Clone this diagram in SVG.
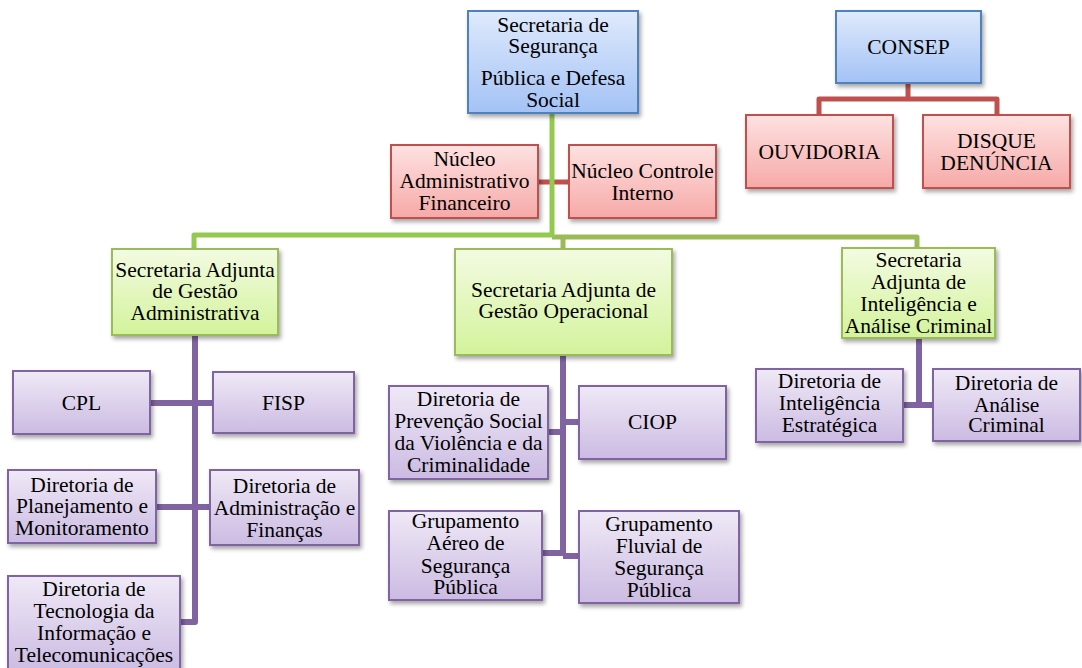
<svg xmlns="http://www.w3.org/2000/svg" width="1082" height="668" viewBox="0 0 1082 668">
<style>
text{font-family:"Liberation Serif","Times New Roman",serif;font-size:21.5px;fill:#000;text-anchor:middle}
.b{fill:url(#gb);stroke:#4f81bd;stroke-width:2;filter:url(#sh)}
.r{fill:url(#gr);stroke:#c0504d;stroke-width:2;filter:url(#sh)}
.g{fill:url(#gg);stroke:#9bbb59;stroke-width:2;filter:url(#sh)}
.p{fill:url(#gp);stroke:#8064a2;stroke-width:2;filter:url(#sh)}
.cg{fill:none;stroke:#92c94e;stroke-width:5;stroke-linejoin:round}
.co{fill:none;stroke:#9bbb59;stroke-width:5;stroke-linejoin:round}
.cr{fill:none;stroke:#c0504d;stroke-width:5;stroke-linejoin:round}
.cp{fill:none;stroke:#8064a2;stroke-width:6;stroke-linejoin:round}
</style>
<defs>
<linearGradient id="gb" x1="0" y1="0" x2="0" y2="1"><stop offset="0" stop-color="#dfeafc"/><stop offset="1" stop-color="#a3c2f5"/></linearGradient>
<linearGradient id="gr" x1="0" y1="0" x2="0" y2="1"><stop offset="0" stop-color="#fde2e1"/><stop offset="1" stop-color="#f6a9a7"/></linearGradient>
<linearGradient id="gg" x1="0" y1="0" x2="0" y2="1"><stop offset="0" stop-color="#f3fbe2"/><stop offset="1" stop-color="#d3f39b"/></linearGradient>
<linearGradient id="gp" x1="0" y1="0" x2="0" y2="1"><stop offset="0" stop-color="#efe9f6"/><stop offset="1" stop-color="#cbbbe2"/></linearGradient>
<filter id="sh" x="-10%" y="-10%" width="130%" height="130%"><feDropShadow dx="2" dy="3" stdDeviation="2" flood-color="#000" flood-opacity="0.35"/></filter>
</defs>
<rect width="1082" height="668" fill="#fff"/>
<g id="connectors">
<path class="cr" d="M908,84 V99 H819 V115 M908,99 H997 V115"/>
<path class="cr" d="M538,182 H569"/>
<path class="co" d="M552,237 H917 V248 M563,237 V249"/>
<path class="cg" d="M552,114 V235 H194 V249"/>
<path class="cp" d="M195,335 V622 H180 M150,403 H213 M156,507 H210"/>
<path class="cp" d="M563,355 V556 M548,432 H563 M563,422 H579 M542,553 H563 M563,556 H579"/>
<path class="cp" d="M919,338 V405 M903,405 H933"/>
</g>
<g id="n-sspds"><rect class="b" x="468" y="11" width="170" height="102"/><text x="553" y="32">Secretaria de</text><text x="553" y="53">Segurança</text><text x="553" y="85">Pública e Defesa</text><text x="553" y="107">Social</text></g>
<g id="n-consep"><rect class="b" x="836" y="11" width="145" height="72"/><text x="908.5" y="54">CONSEP</text></g>
<g id="n-ouvidoria"><rect class="r" x="746" y="115" width="147" height="73"/><text x="819.5" y="159">OUVIDORIA</text></g>
<g id="n-disque"><rect class="r" x="923" y="115" width="147" height="73"/><text x="996.5" y="148">DISQUE</text><text x="996.5" y="170">DENÚNCIA</text></g>
<g id="n-naf"><rect class="r" x="391" y="145" width="147" height="73"/><text x="464.5" y="166">Núcleo</text><text x="464.5" y="188">Administrativo</text><text x="464.5" y="210">Financeiro</text></g>
<g id="n-nci"><rect class="r" x="569" y="145" width="147" height="73"/><text x="642.5" y="178">Núcleo Controle</text><text x="642.5" y="200">Interno</text></g>
<g id="n-saga"><rect class="g" x="112" y="249" width="166" height="86"/><text x="195" y="277">Secretaria Adjunta</text><text x="195" y="298">de Gestão</text><text x="195" y="320">Administrativa</text></g>
<g id="n-sago"><rect class="g" x="455" y="249" width="217" height="106"/><text x="563.5" y="297">Secretaria Adjunta de</text><text x="563.5" y="318">Gestão Operacional</text></g>
<g id="n-saiac"><rect class="g" x="842" y="248" width="153" height="90"/><text x="918.5" y="267">Secretaria</text><text x="918.5" y="289">Adjunta de</text><text x="918.5" y="311">Inteligência e</text><text x="918.5" y="333">Análise Criminal</text></g>
<g id="n-cpl"><rect class="p" x="13" y="371" width="137" height="63"/><text x="81.5" y="410">CPL</text></g>
<g id="n-fisp"><rect class="p" x="213" y="372" width="141" height="61"/><text x="283.5" y="410">FISP</text></g>
<g id="n-dpm"><rect class="p" x="8" y="470" width="148" height="73"/><text x="82" y="492">Diretoria de</text><text x="82" y="513">Planejamento e</text><text x="82" y="535">Monitoramento</text></g>
<g id="n-daf"><rect class="p" x="210" y="470" width="149" height="75"/><text x="284.5" y="493">Diretoria de</text><text x="284.5" y="515">Administração e</text><text x="284.5" y="537">Finanças</text></g>
<g id="n-dti"><rect class="p" x="8" y="576" width="172" height="96"/><text x="94" y="596">Diretoria de</text><text x="94" y="618">Tecnologia da</text><text x="94" y="640">Informação e</text><text x="94" y="662">Telecomunicações</text></g>
<g id="n-dps"><rect class="p" x="389" y="386" width="159" height="93"/><text x="468.5" y="406">Diretoria de</text><text x="468.5" y="428">Prevenção Social</text><text x="468.5" y="450">da Violência e da</text><text x="468.5" y="472">Criminalidade</text></g>
<g id="n-ciop"><rect class="p" x="579" y="386" width="147" height="73"/><text x="652.5" y="429">CIOP</text></g>
<g id="n-gasp"><rect class="p" x="389" y="511" width="153" height="89"/><text x="465.5" y="528">Grupamento</text><text x="465.5" y="550">Aéreo de</text><text x="465.5" y="573">Segurança</text><text x="465.5" y="594">Pública</text></g>
<g id="n-gfsp"><rect class="p" x="579" y="511" width="160" height="92"/><text x="659" y="531">Grupamento</text><text x="659" y="553">Fluvial de</text><text x="659" y="575">Segurança</text><text x="659" y="597">Pública</text></g>
<g id="n-die"><rect class="p" x="756" y="369" width="147" height="73"/><text x="829.5" y="388">Diretoria de</text><text x="829.5" y="410">Inteligência</text><text x="829.5" y="432">Estratégica</text></g>
<g id="n-dac"><rect class="p" x="933" y="369" width="147" height="72"/><text x="1006.5" y="390">Diretoria de</text><text x="1006.5" y="412">Análise</text><text x="1006.5" y="432">Criminal</text></g>
</svg>
